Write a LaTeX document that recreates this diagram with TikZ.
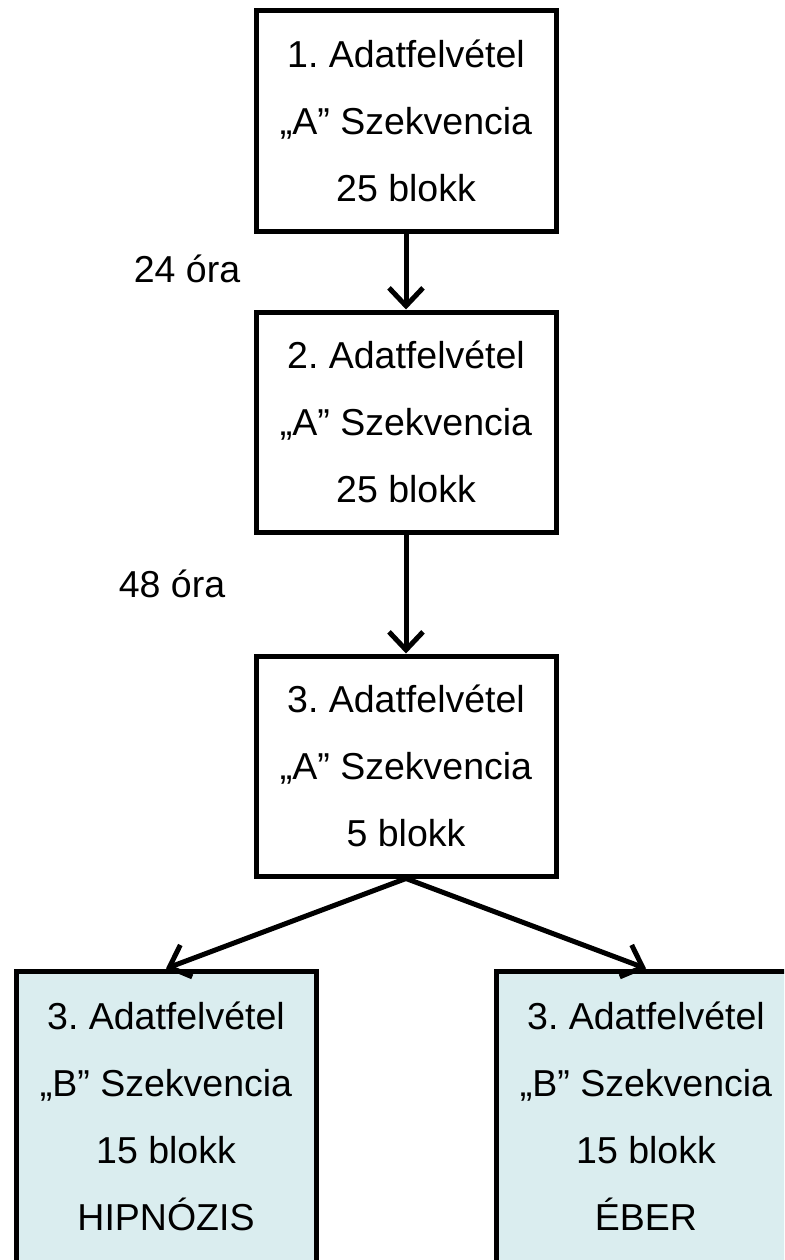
\documentclass[tikz,border=0pt]{standalone}
\usepackage{fontspec}
\setmainfont{Liberation Sans}
\usetikzlibrary{arrows.meta}
\definecolor{halvany}{RGB}{218,237,239}
\frenchspacing
\begin{document}
\begin{tikzpicture}[
    x=1pt, y=-1pt,
    every node/.style={font=\fontsize{37.5pt}{67pt}\selectfont},
    box/.style={rectangle, draw, line width=5pt, align=center, minimum width=300pt, minimum height=220pt},
    bluebox/.style={box, fill=halvany, minimum height=291pt},
    note/.style={inner sep=0pt},
    arrow/.style={-{Straight Barb[length=18pt,width=34pt]}, line width=5pt}
]
    \useasboundingbox (0,0) rectangle (784,1260);
    \clip (0,0) rectangle (784,1260);

    % Measurements (top to bottom)
    \node[box] (b1) at (406,121) {1. Adatfelvétel\\„A” Szekvencia\\25 blokk};
    \node[box] (b2) at (406,422) {2. Adatfelvétel\\„A” Szekvencia\\25 blokk};
    \node[box] (b3) at (406,766) {3. Adatfelvétel\\„A” Szekvencia\\5 blokk};

    % Two branches below
    \node[bluebox] (hip) at (166,1116.5) {3. Adatfelvétel\\„B” Szekvencia\\15 blokk\\HIPNÓZIS};
    \node[bluebox] (eber) at (646,1116.5) {3. Adatfelvétel\\„B” Szekvencia\\15 blokk\\ÉBER};

    % Time gaps
    \node[note] (t24) at (187,269) {24 óra};
    \node[note] (t48) at (172,584) {48 óra};

    % Arrows
    \foreach \i/\j in {b1/b2, b2/b3} {
        \draw[arrow] (\i) -- (\j);
    }
    \draw[arrow] (b3.south) -- (hip.north);
    \draw[arrow] (b3.south) -- (eber.north);

\end{tikzpicture}
\end{document}
